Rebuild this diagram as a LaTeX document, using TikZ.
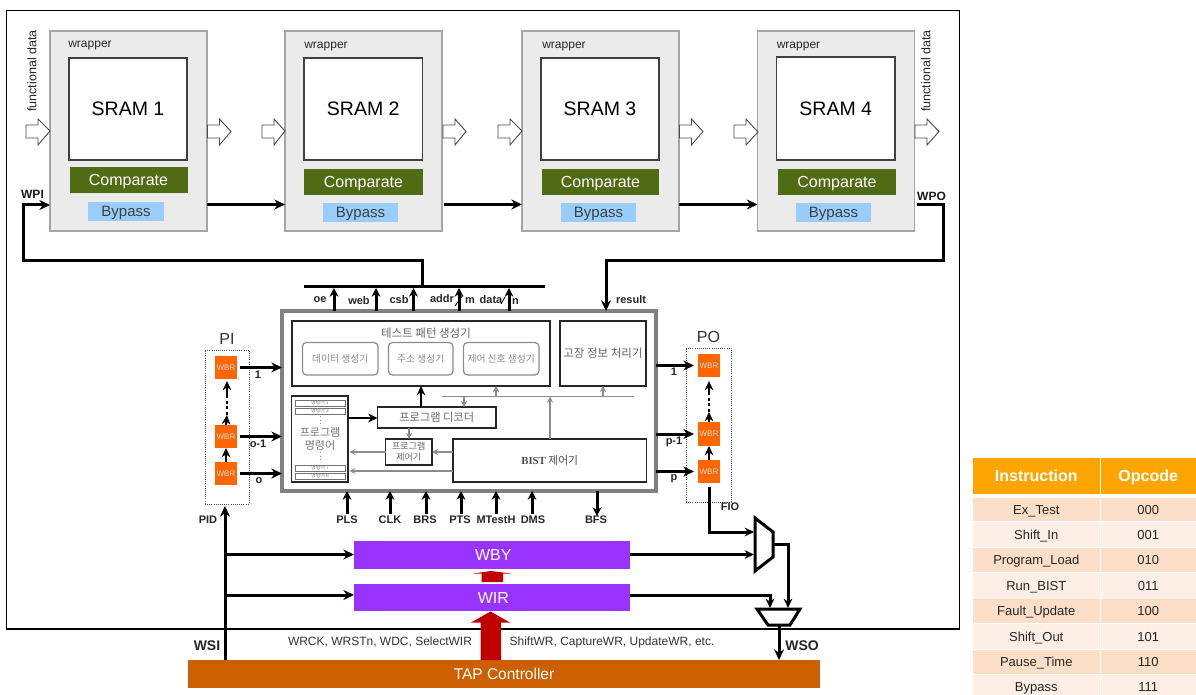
\documentclass[tikz,border=0pt]{standalone}
\usepackage{fontspec}
\setmainfont{Liberation Sans}
\newfontfamily\krf{Noto Sans CJK KR}
\newfontfamily\serf{Liberation Serif}
\usetikzlibrary{arrows.meta}
\newcommand\fz[1]{\fontsize{\dimexpr #1pt*3/4\relax}{\dimexpr #1pt*9/10\relax}\selectfont}
% \bx{name}{x1}{y1}{x2}{y2}{style}{text}
\newcommand\bx[7]{\node[boxbase,#6,minimum width={(#4-#2)*0.75pt},minimum height={(#5-#3)*0.75pt}] (#1) at ({(#2+#4)/2},{(#3+#5)/2}) {#7};}
% \tx{name}{x}{y}{style}{text}
\newcommand\tx[5]{\node[lbl,#4] (#1) at (#2,#3) {#5};}
% \hollow{x1}{x2}{yc}
\newcommand\hollow[3]{\draw[hollowarr] (#1,125) -- ({#1+12},125) -- ({#1+12},119) -- (#2,#3) -- ({#1+12},145) -- ({#1+12},138) -- (#1,138) -- cycle;}
\tikzset{
 boxbase/.style={inner sep=0pt,outer sep=0pt,align=center,rectangle},
 lbl/.style={inner sep=0pt,outer sep=0pt,align=center},
 wrapbox/.style={fill=black!8,draw=black!35,line width=0.9pt},
 srambox/.style={fill=white,draw=black!75,line width=0.9pt,font=\fz{19.5},text=black},
 cmpbox/.style={fill={rgb,255:red,79;green,108;blue,20},text=white,font=\fz{16},text height=8.5pt,text depth=0pt},
 bypbox/.style={fill={rgb,255:red,153;green,204;blue,255},text=black!75,font=\fz{15},text height=8pt,text depth=0pt},
 wraptxt/.style={font=\fz{12},text=black!85},
 fdtxt/.style={font=\fz{12.5},text=black!85},
 hollowarr/.style={draw=black!70,fill=white,line width=0.7pt},
 thk/.style={line width=2.25pt,draw=black,-{Stealth[length=8pt,width=7.5pt]}},
 pin/.style={line width=2.25pt,draw=black,-{Stealth[length=6.5pt,width=6.5pt]}},
 thn/.style={line width=1.7pt,draw=black,-{Stealth[length=7pt,width=6.5pt]}},
 plainthk/.style={line width=2.25pt,draw=black,line join=miter},
 gryarr/.style={line width=1.1pt,draw=black!45,-{Stealth[length=4.5pt,width=4.5pt]}},
 gryline/.style={line width=1.1pt,draw=black!45},
 sig/.style={font=\fz{11}\bfseries,text=black!85},
 sigb/.style={font=\fz{12}\bfseries,text=black!90},
 kbox/.style={fill=white,draw=black!85,line width=1.3pt},
 ktxt/.style={font=\krf\fz{11.5},text=black!60},
 ksub/.style={fill=white,draw=black!45,line width=0.9pt,rounded corners=3pt,font=\krf\fz{9.8},text=black!45},
 slot/.style={fill=white,draw=black!55,line width=0.6pt,font=\krf\fz{5},text=black!50},
 wbr/.style={fill={rgb,255:red,255;green,102;blue,0},font=\fz{8},text=white!85!black},
 dotbox/.style={draw=black!70,densely dotted,line width=0.6pt},
 purp/.style={fill={rgb,255:red,153;green,51;blue,255},text=white,font=\fz{16},text height=8.7pt,text depth=0pt},
 redarr/.style={fill={rgb,255:red,192;green,0;blue,0},draw=none},
 muxs/.style={draw=black,line width=2.25pt,fill=white,line join=miter},
 thead/.style={fill={rgb,255:red,255;green,165;blue,0},text=white,font=\fz{16}\bfseries,text height=8.7pt,text depth=0pt},
 rowa/.style={fill={rgb,255:red,253;green,223;blue,200},text=black!85,font=\fz{13},text height=7pt,text depth=0pt},
 rowb/.style={fill={rgb,255:red,254;green,239;blue,230},text=black!85,font=\fz{13},text height=7pt,text depth=0pt},
}
\begin{document}
\begin{tikzpicture}[x=0.75pt,y=-0.75pt]
\useasboundingbox (0,0) rectangle (1196,695);
\fill[white] (0,0) rectangle (1196,695);
\bx{frame}{6.5}{10.5}{959.5}{629}{draw=black,line width=0.9pt}{}
% wrappers
\bx{wa}{50}{31}{207}{231}{wrapbox}{}
\bx{wb}{285}{31}{442}{231}{wrapbox}{}
\bx{wc}{522}{31}{679}{231}{wrapbox}{}
\bx{wd}{757.5}{31}{914.5}{231}{wrapbox}{}
\bx{sa}{69}{58}{187}{160}{srambox}{SRAM 1}
\bx{sb}{304}{58}{422.5}{160}{srambox}{SRAM 2}
\bx{sc}{541}{58}{659}{160}{srambox}{SRAM 3}
\bx{sd}{776.5}{57}{895}{160}{srambox}{SRAM 4}
\bx{ca}{69.5}{167}{187.5}{193.5}{cmpbox}{Comparate}
\bx{cb}{304}{169}{423}{195}{cmpbox}{Comparate}
\bx{cc}{542}{169}{659}{195}{cmpbox}{Comparate}
\bx{cd}{778}{169}{896}{195}{cmpbox}{Comparate}
\bx{ba}{88}{202}{164}{221}{bypbox}{Bypass}
\bx{bb}{323}{203}{398}{222}{bypbox}{Bypass}
\bx{bc}{561}{203}{636}{222}{bypbox}{Bypass}
\bx{bd}{796}{203}{871}{222}{bypbox}{Bypass}
\tx{wta}{90}{46}{wraptxt}{wrapper}
\tx{wtb}{326}{46.5}{wraptxt}{wrapper}
\tx{wtc}{564}{46.5}{wraptxt}{wrapper}
\tx{wtd}{798.5}{46.5}{wraptxt}{wrapper}
\tx{fda}{32}{71}{fdtxt,rotate=90}{functional data}
\tx{fdb}{926}{71}{fdtxt,rotate=90}{functional data}
\hollow{26}{50}{131}
\hollow{207.5}{231}{131.5}
\hollow{262}{285}{131}
\hollow{443}{466}{131.5}
\hollow{498}{522}{131}
\hollow{679.5}{703}{131.5}
\hollow{734}{758}{132}
\hollow{915}{939}{131.5}
% wrapper scan chain
\coordinate (yw) at (0,204.5);
\coordinate (ypi) at (0,205);
\coordinate (lft) at (23,0);
\coordinate (rgt) at (943,0);
\coordinate (yl) at (0,261);
\tx{wpi}{32.5}{194}{sigb}{WPI}
\tx{wpo}{931.5}{196}{sigb}{WPO}
\draw[thk] (wa.east |- yw) -- (wb.west |- yw);
\draw[thk] ([xshift=1.5pt]wb.east |- yw) -- (wc.west |- yw);
\draw[thk] (wc.east |- yw) -- (wd.west |- yw);
% bist block
\bx{main}{282}{311}{656}{491}{draw=black!50,line width=3pt}{}
\bx{bus}{304}{285}{545}{288}{fill=black}{}
\coordinate (tap) at (422.5,0);
\coordinate (res) at (606,0);
\draw[plainthk,-{Stealth[length=8pt,width=7.5pt]}] (tap |- bus.north) -- (tap |- yl) -- (lft |- yl) -- (lft |- ypi) -- (wa.west |- ypi);
\draw[thk] ([xshift=2pt]wd.east |- ypi) -- (rgt |- ypi) -- (rgt |- yl) -- (res |- yl) -- (res |- main.north);
\tx{oe}{320}{300}{sig}{oe}
\tx{web}{359}{300.5}{sig}{web}
\tx{csb}{399}{299.5}{sig}{csb}
\tx{addr}{442}{298.5}{sig}{addr}
\tx{mm}{470}{300.5}{sig}{m}
\tx{dat}{491}{299.5}{sig}{data}
\tx{nn}{515.5}{301.5}{sig}{n}
\tx{rs}{631}{299.5}{sig}{result}
\foreach \nm/\xx in {oe/334,web/376,csb/413.5,addr/459,dat/509}{
  \coordinate (t\nm) at (\xx,0);
  \draw[pin] (t\nm |- main.north) -- (t\nm |- bus.south);
}
\coordinate (sa1) at (455,306); \coordinate (sa2) at (463,295);
\coordinate (sb1) at (501,304); \coordinate (sb2) at (505,297);
\draw[line width=0.6pt] (sa1) -- (sa2);
\draw[line width=0.6pt] (sb1) -- (sb2);
% inner blocks
\bx{tpg}{292}{321}{550}{386}{kbox}{}
\tx{tpgt}{426}{333}{ktxt}{테스트 패턴 생성기}
\bx{g1}{302.5}{342.5}{378}{375}{ksub}{데이터 생성기}
\bx{g2}{388.5}{342.5}{453}{375}{ksub}{주소 생성기}
\bx{g3}{463.5}{342.5}{539}{375}{ksub}{제어 신호 생성기}
\bx{fault}{560}{321}{646}{386}{kbox,ktxt}{고장 정보 처리기}
\bx{mem}{291.5}{396}{348}{482}{kbox}{}
\bx{s1}{295}{400}{345}{406}{slot}{명령어 1}
\bx{s2}{295}{408}{345}{414}{slot}{명령어 2}
\bx{s7}{295}{465}{345}{471}{slot}{명령어 7}
\bx{s8}{295}{473}{345}{479}{slot}{명령어 8}
\coordinate (dd1) at (320,416); \coordinate (dd2) at (320,425);
\coordinate (dd3) at (320,452); \coordinate (dd4) at (320,462);
\draw[black!45,dotted,line width=0.7pt] (dd1) -- (dd2);
\draw[black!45,dotted,line width=0.7pt] (dd3) -- (dd4);
\tx{memt}{320}{439}{font=\krf\fz{11},text=black!55}{프로그램\\명령어}
\bx{dec}{377.5}{407}{496}{428}{kbox,font=\krf\fz{11.2},text=black!60}{프로그램 디코더}
\bx{ctl}{385.5}{439}{432}{465}{kbox,font=\krf\fz{9},text=black!60}{프로그램\\제어기}
\bx{bist}{453}{439}{646.5}{482}{kbox,font=\krf\fz{10.8},text=black!70}{{\serf\bfseries BIST} 제어기}
\coordinate (ydist) at (0,396.5);
\coordinate (dl) at (442,396.5);
\coordinate (dr) at (634,396.5);
\coordinate (xu1) at (496,0); \coordinate (xu2) at (603,0); \coordinate (xd) at (464,0); \coordinate (xb) at (550,0);
\coordinate (ymb) at (0,471);
\coordinate (yctl) at (0,452);
\coordinate (xdc) at (409,0);
\draw[gryline] (dl) -- (dr);
\draw[gryarr] (xu1 |- ydist) -- (xu1 |- tpg.south);
\draw[gryarr] (xu2 |- ydist) -- (xu2 |- fault.south);
\draw[gryarr] (xd |- ydist) -- (xd |- dec.north);
\draw[gryarr] (xb |- bist.north) -- (xb |- ydist);
\draw[gryarr] (xdc |- dec.south) -- (xdc |- ctl.north);
\draw[gryarr] (ctl.west |- yctl) -- ([xshift=1pt]mem.east |- yctl);
\draw[gryarr] (bist.west |- yctl) -- (ctl.east |- yctl);
\draw[gryarr] (bist.west |- ymb) -- ([xshift=1pt]mem.east |- ymb);
\coordinate (yd) at (0,418); \coordinate (xdu) at (421,0);
\draw[thn] (mem.east |- yd) -- (dec.west |- yd);
\draw[thn] (xdu |- dec.north) -- (xdu |- tpg.south);
% bottom pins
\foreach \nm/\xx/\lx/\ly in {PLS/347/347/519.5,CLK/390/390/519.5,BRS/426/425/519.5,PTS/461/460/519.5,MTestH/496/496/519.5,DMS/532/533/519.5}{
  \coordinate (p\nm) at (\xx,514);
  \tx{l\nm}{\lx}{\ly}{sig}{\nm}
  \draw[pin] (p\nm) -- (p\nm |- main.south);
}
\coordinate (pBFS) at (597,516);
\tx{lBFS}{596}{520}{sig}{BFS}
\draw[pin] (pBFS |- main.south) -- (pBFS);
% PI
\tx{pit}{227}{339}{font=\fz{16},text=black!80}{PI}
\bx{pibx}{205}{350}{249}{504}{dotbox}{}
\bx{ia}{215}{356}{237}{379}{wbr}{WBR}
\bx{ib}{215}{425}{237}{448}{wbr}{WBR}
\bx{ic}{215}{462}{237}{485}{wbr}{WBR}
\draw[thk,shorten <=2pt] (ia.east) -- (ia.east -| main.west);
\draw[thk,shorten <=2pt] (ib.east) -- (ib.east -| main.west);
\draw[thk,shorten <=2pt] (ic.east) -- (ic.east -| main.west);
\tx{i1}{258}{374.5}{sig}{1}
\tx{i2}{258}{444}{sig}{o-1}
\tx{i3}{259}{481}{sig}{o}
\coordinate (ie) at (227,415); \coordinate (if) at (227,397); \coordinate (ig) at (227,381);
\draw[thn] (ic.north) -- (ib.south);
\draw[thn] (ib.north) -- (ie);
\draw[line width=2.2pt,dotted] (ie) -- (if);
\draw[thn] (if) -- (ig);
% PO
\tx{pot}{708.5}{337}{font=\fz{16},text=black!80}{PO}
\bx{pobx}{686}{348}{731}{502}{dotbox}{}
\bx{oa}{698}{354}{720}{377}{wbr}{WBR}
\bx{ob}{698}{422}{720}{446}{wbr}{WBR}
\bx{oc}{698}{460}{720}{483}{wbr}{WBR}
\draw[thk,shorten >=3pt] (oa.west -| main.east) -- (oa.west);
\draw[thk,shorten >=3pt] (ob.west -| main.east) -- (ob.west);
\draw[thk,shorten >=3pt] (oc.west -| main.east) -- (oc.west);
\tx{o1}{674}{372}{sig}{1}
\tx{o2}{674}{442}{sig}{p-1}
\tx{o3}{674}{479}{sig}{p}
\coordinate (oe) at (709,412); \coordinate (of) at (709,393); \coordinate (og) at (709,381);
\draw[thn] (oc.north) -- (ob.south);
\draw[thn] (ob.north) -- (oe);
\draw[line width=2.2pt,dotted] (oe) -- (of);
\draw[thn] (of) -- (og);
\tx{fio}{730}{507}{sig}{FIO}
\tx{pid}{208}{520}{sig}{PID}
% registers + TAP
\bx{wby}{354}{541}{630}{569}{purp}{\hspace*{2pt}WBY}
\bx{wir}{354}{584}{630}{611}{purp}{\hspace*{2pt}WIR}
\bx{tapc}{188}{660}{820}{688}{fill={rgb,255:red,204;green,96;blue,0},text=white,font=\fz{15.5},text height=8.5pt,text depth=0pt}{TAP Controller}
\tx{wsi}{207}{646}{font=\fz{14}\bfseries,text=black!85}{WSI}
\tx{wso}{802}{646}{font=\fz{14}\bfseries,text=black!85}{WSO}
\tx{sg1}{380}{642}{font=\fz{12},text=black!80}{WRCK, WRSTn, WDC, SelectWIR}
\tx{sg2}{612}{642}{font=\fz{12},text=black!80}{ShiftWR, CaptureWR, UpdateWR, etc.}
% red arrows
\fill[redarr] (480.5,660) -- (480.5,622.5) -- (471,622.5) -- (490.5,611.5) -- (510,622.5) -- (501,622.5) -- (501,660) -- cycle;
\fill[redarr] (481.5,582) -- (481.5,573.5) -- (473,573.5) -- (491,571) -- (511,573.5) -- (503,573.5) -- (503,582) -- cycle;
% WSI trunk
\coordinate (xw) at (225,0);
\coordinate (piin) at (225,506);
\coordinate (ybr1) at (0,554.5);
\coordinate (ybr2) at (0,595);
\draw[thk] (xw |- tapc.north) -- (piin);
\draw[thk] (xw |- ybr1) -- (wby.west |- ybr1);
\draw[thk] (xw |- ybr2) -- (wir.west |- ybr2);
% muxes
\coordinate (ma) at (755,518); \coordinate (mb) at (773,532); \coordinate (mc) at (773,557); \coordinate (md) at (755,571);
\coordinate (na) at (757,609); \coordinate (nb) at (800,609); \coordinate (nc) at (790,625); \coordinate (nd) at (768,625);
\coordinate (fo) at (709,487); \coordinate (fo2) at (709,532); \coordinate (mi1) at (754,532);
\coordinate (mi2) at (754,554.5); \coordinate (mo) at (773,544); \coordinate (mo2) at (788,544);
\coordinate (ni1) at (770,608); \coordinate (ni2) at (788,608); \coordinate (wi2) at (770,595);
\coordinate (no) at (779,625);
\draw[thn,line width=2.25pt] (fo) -- (fo2) -- (mi1);
\draw[thn,line width=2.25pt] (wby.east |- mi2) -- (mi2);
\draw[thn,line width=2.25pt] (mo) -- (mo2) -- (ni2);
\draw[thn,line width=2.25pt] (wir.east |- wi2) -- (wi2) -- (ni1);
\draw[thk] (no) -- (no |- tapc.north);
\draw[muxs] (ma) -- (mb) -- (mc) -- (md) -- cycle;
\draw[muxs] (na) -- (nb) -- (nc) -- (nd) -- cycle;
% table
\bx{h1}{973}{458}{1099.5}{494}{thead}{Instruction}
\bx{h2}{1100.5}{458}{1196}{494}{thead}{Opcode}
\foreach \i/\ya/\yb/\ins/\op/\st in {1/498/521/Ex\_Test/000/rowa,2/522/547/Shift\_In/001/rowb,3/548/572/Program\_Load/010/rowa,4/573/598.5/Run\_BIST/011/rowb,5/599/623/Fault\_Update/100/rowa,6/624/649/Shift\_Out/101/rowb,7/650/674/Pause\_Time/110/rowa,8/675/699/Bypass/111/rowb}{
  \bx{r\i a}{973}{\ya}{1099.5}{\yb}{\st}{\ins}
  \bx{r\i b}{1100.5}{\ya}{1196}{\yb}{\st}{\op}
}
\end{tikzpicture}
\end{document}
